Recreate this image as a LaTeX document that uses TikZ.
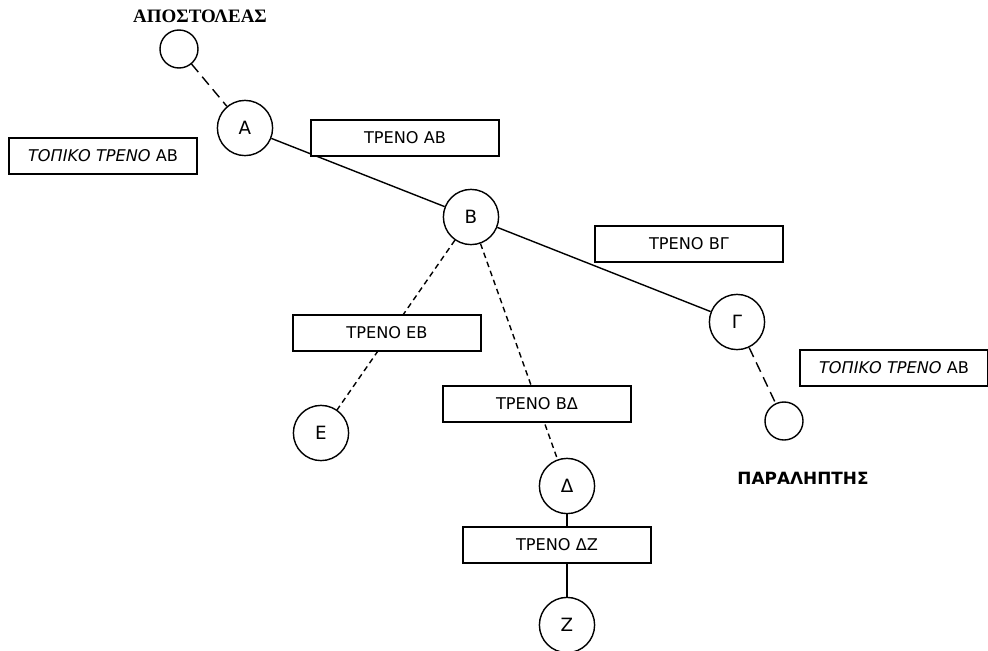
\documentclass[tikz,border=0pt]{standalone}
\usepackage{fontspec}
\setmainfont{DejaVu Sans}
\newfontfamily\titlefont{Liberation Serif}
\usetikzlibrary{backgrounds}

\begin{document}
\begin{tikzpicture}[
      x=0.025cm, y=-0.025cm,
      station/.style={circle, draw, fill=white, line width=1pt, minimum size=1.38cm, inner sep=0pt, font=\fontsize{13}{15}\selectfont},
      endpoint/.style={circle, draw, fill=white, line width=1pt, minimum size=0.95cm, inner sep=0pt},
      train/.style={rectangle, draw, fill=white, line width=1pt, minimum width=4.7cm, minimum height=0.9cm, inner sep=0pt, font=\fontsize{11.5}{13}\selectfont},
      link/.style={line width=1pt},
      locallink/.style={line width=1pt, dash pattern=on 0.26cm off 0.15cm},
      sidelink/.style={line width=1pt, dash pattern=on 0.14cm off 0.1cm}
    ]

    \useasboundingbox (0,0) rectangle (988,651);

    % end users
    \node[font=\titlefont\bfseries\fontsize{13.5}{15}\selectfont] (sndlabel) at (200,16) {ΑΠΟΣΤΟΛΕΑΣ};
    \node[endpoint] (snd) at (179,49) {};
    \node[endpoint] (rcv) at (784,421) {};
    \node[font=\bfseries\fontsize{12}{14}\selectfont] (rcvlabel) at (803,478) {ΠΑΡΑΛΗΠΤΗΣ};

    % stations
    \node[station] (A) at (245,128) {Α};
    \node[station] (B) at (471,217) {Β};
    \node[station] (G) at (737,322) {Γ};
    \node[station] (E) at (321,433) {Ε};
    \node[station] (D) at (567,486) {Δ};
    \node[station] (Z) at (567,625) {Ζ};

    % trains
    \node[train] (localA) at (103,156) {\textit{ΤΟΠΙΚΟ ΤΡΕΝΟ} ΑΒ};
    \node[train] (trAB) at (405,138) {ΤΡΕΝΟ ΑΒ};
    \node[train] (trBG) at (689,244) {ΤΡΕΝΟ ΒΓ};
    \node[train] (trEB) at (387,333) {ΤΡΕΝΟ ΕΒ};
    \node[train] (trBD) at (537,404) {ΤΡΕΝΟ ΒΔ};
    \node[train] (trDZ) at (557,545) {ΤΡΕΝΟ ΔΖ};
    \node[train] (localG) at (894,368) {\textit{ΤΟΠΙΚΟ ΤΡΕΝΟ} ΑΒ};

    \begin{scope}[on background layer]
      \draw[locallink] (snd) -- (A);
      \draw[link] (A) -- (B);
      \draw[link] (B) -- (G);
      \draw[locallink] (G) -- (rcv);
      \draw[sidelink] (B) -- (E);
      \draw[sidelink] (B) -- (D);
      \draw[link] (D) -- (Z);
    \end{scope}

  \end{tikzpicture}
\end{document}
